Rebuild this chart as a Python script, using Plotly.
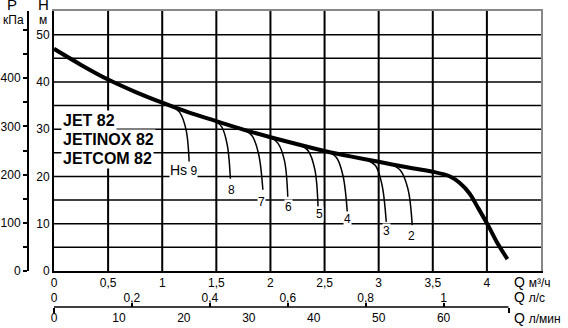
import plotly.graph_objects as go

# ---------------- data ----------------
q_main = [0, 0.25, 0.5, 0.75, 1.0, 1.25, 1.5, 1.75, 2.0, 2.25, 2.5, 2.75, 3.0, 3.25, 3.5, 3.66, 3.75, 3.84, 3.92, 4.01, 4.09, 4.19]
h_main = [47.0, 43.6, 40.5, 37.9, 35.6, 33.5, 31.7, 29.9, 28.3, 26.8, 25.4, 24.2, 23.1, 22.0, 21.0, 20.0, 18.6, 16.4, 13.3, 9.7, 6.2, 2.5]

hs_names = ["9", "8", "7", "6", "5", "4", "3", "2"]
hs_q = [
    [1.09, 1.16, 1.22, 1.25],
    [1.49, 1.55, 1.60, 1.63],
    [1.75, 1.83, 1.89, 1.93],
    [2.00, 2.07, 2.13, 2.16],
    [2.27, 2.35, 2.41, 2.44],
    [2.53, 2.61, 2.67, 2.71],
    [2.88, 2.97, 3.03, 3.07],
    [3.11, 3.20, 3.27, 3.31],
]
hs_h = [
    [34.8, 33.6, 29.9, 22.5],
    [31.7, 30.5, 26.8, 19.5],
    [29.9, 28.6, 24.8, 17.2],
    [28.3, 27.0, 23.3, 15.7],
    [26.7, 25.4, 21.5, 13.6],
    [25.3, 24.0, 20.2, 12.5],
    [23.6, 22.3, 18.3, 10.4],
    [22.6, 21.3, 17.4, 9.7],
]
# label positions (Q, H) for the Hs numbers
hs_label_q = [1.20, 1.64, 1.915, 2.17, 2.45, 2.71, 3.07, 3.30]
hs_label_h = [21.4, 17.2, 14.6, 13.5, 12.1, 11.0, 8.5, 7.4]

h_ticks = [0, 5, 10, 15, 20, 25, 30, 35, 40, 45, 50]
h_ticklabels = ["0", "", "10", "", "20", "", "30", "", "40", "", "50"]
p_ticks = [0, 50, 100, 150, 200, 250, 300, 350, 400, 450, 500]
p_ticklabels = ["0", "", "100", "", "200", "", "300", "", "400", "", ""]
q_ticks = [0, 0.5, 1, 1.5, 2, 2.5, 3, 3.5, 4]
q_ticklabels = ["0", "0,5", "1", "1,5", "2", "2,5", "3", "3,5", "4"]
ls_ticks = [0, 0.2, 0.4, 0.6, 0.8, 1.0]
ls_ticklabels = ["0", "0,2", "0,4", "0,6", "0,8", "1"]
lmin_ticks = [0, 10, 20, 30, 40, 50, 60]
lmin_ticklabels = ["0", "10", "20", "30", "40", "50", "60"]
lmin_end = 70

models = ["JET 82", "JETINOX 82", "JETCOM 82"]

Q_MAX = 4.5          # m3/h
H_MAX = 55           # m
KPA_PER_M = 9.81
LS_PER_M3H = 1 / 3.6
LMIN_PER_M3H = 1000 / 60

# ---------------- layout geometry ----------------
W, HGT = 568, 328
MR = 27
PW = W - MR
def fx(px):
    return px / PW
def fy(py):
    return 1 - py / HGT

FONT = "Liberation Sans, Arial, sans-serif"
x0 = fx(54)
ydom = [fy(271), fy(11)]

fig = go.Figure()

# grid built from the tick arrays
vx, vy = [], []
for q in q_ticks[1:]:
    vx += [q, q, None]
    vy += [0, H_MAX, None]
hx, hy = [], []
for h in h_ticks[1:]:
    hx += [0, Q_MAX, None]
    hy += [h, h, None]
fig.add_trace(go.Scatter(x=vx, y=vy, mode="lines", line=dict(color="black", width=2),
                         hoverinfo="skip", showlegend=False))
fig.add_trace(go.Scatter(x=hx, y=hy, mode="lines", line=dict(color="black", width=1.5),
                         hoverinfo="skip", showlegend=False))

for qs, hs in zip(hs_q, hs_h):
    fig.add_trace(go.Scatter(x=qs, y=hs, mode="lines", line=dict(color="black", width=1.5, shape="spline"),
                             hoverinfo="skip", showlegend=False))

fig.add_trace(go.Scatter(x=q_main, y=h_main, mode="lines",
                         line=dict(color="black", width=4, shape="spline", smoothing=0.8),
                         showlegend=False))

# empty traces so the extra axes render
fig.add_trace(go.Scatter(x=[], y=[], xaxis="x", yaxis="y2", showlegend=False))
fig.add_trace(go.Scatter(x=[], y=[], xaxis="x", yaxis="y3", showlegend=False))
for ax in ["x2", "x3", "x4", "x5", "x6"]:
    fig.add_trace(go.Scatter(x=[], y=[], xaxis=ax, yaxis="y", showlegend=False))

tickfont = dict(family=FONT, size=12, color="black")

fig.update_layout(
    width=W, height=HGT,
    margin=dict(l=0, r=MR, t=0, b=0),
    paper_bgcolor="white", plot_bgcolor="white",
    showlegend=False,
    xaxis=dict(domain=[x0, 1], range=[0, Q_MAX], tickvals=q_ticks, ticktext=q_ticklabels,
               showgrid=False, zeroline=False,
               showline=True, linecolor="black", linewidth=1.5, ticks="", tickfont=tickfont,
               automargin=False, fixedrange=True),
    yaxis=dict(domain=ydom, range=[0, H_MAX], tickvals=h_ticks, ticktext=h_ticklabels,
               showgrid=False, zeroline=False,
               showline=True, linecolor="black", linewidth=2, ticks="", tickfont=tickfont,
               automargin=False, fixedrange=True),
    yaxis2=dict(overlaying="y", anchor="free", position=fx(28), side="left",
                range=[0, H_MAX * KPA_PER_M], tickvals=p_ticks, ticktext=p_ticklabels,
                showgrid=False, zeroline=False, showline=True, linecolor="black", linewidth=2,
                ticks="outside", ticklen=4, tickwidth=1.5, tickcolor="black", tickfont=tickfont,
                automargin=False),
    yaxis3=dict(overlaying="y", anchor="x", side="right", range=[0, H_MAX],
                showgrid=False, zeroline=False, showline=True, linecolor="#888888", linewidth=2,
                ticks="", showticklabels=False, automargin=False),
    xaxis6=dict(overlaying="x", anchor="y", side="top", range=[0, Q_MAX],
                showgrid=False, zeroline=False, showline=True, linecolor="#888888", linewidth=1.5,
                ticks="", showticklabels=False, automargin=False),
    xaxis2=dict(overlaying="x", anchor="free", position=fy(304), side="top",
                range=[0, Q_MAX * LS_PER_M3H], tickvals=ls_ticks, ticktext=ls_ticklabels,
                showgrid=False, zeroline=False, showline=False, ticks="", tickfont=tickfont,
                automargin=False),
    xaxis5=dict(overlaying="x", anchor="free", position=fy(307), side="top",
                range=[0, Q_MAX * LS_PER_M3H], tickvals=ls_ticks[1:],
                showgrid=False, zeroline=False, showline=False, showticklabels=False,
                ticks="outside", ticklen=4, tickwidth=2, tickcolor="black", automargin=False),
    xaxis3=dict(overlaying="x", anchor="free", position=fy(309), side="bottom",
                range=[0, Q_MAX * LMIN_PER_M3H], tickvals=lmin_ticks, ticktext=lmin_ticklabels,
                showgrid=False, zeroline=False, showline=False, ticks="", tickfont=tickfont,
                automargin=False),
    xaxis4=dict(overlaying="x", anchor="free", position=fy(307), side="bottom",
                range=[0, Q_MAX * LMIN_PER_M3H], tickvals=[0, lmin_end],
                showgrid=False, zeroline=False, showline=False, showticklabels=False,
                ticks="outside", ticklen=5, tickwidth=2, tickcolor="black", automargin=False),
)

# l/min axis line up to its last tick
fig.add_shape(type="line", xref="x3", yref="paper", x0=0, x1=lmin_end, y0=fy(307), y1=fy(307),
              line=dict(color="black", width=1.5))

# model names block
for i, m in enumerate(models):
    fig.add_annotation(xref="paper", yref="paper", x=fx(61), y=fy(120 + 19 * i), xanchor="left", yanchor="middle",
                       text="<b>" + m + "</b>", showarrow=False, font=dict(family=FONT, size=16, color="black"),
                       bgcolor="white", borderpad=1)

# Hs labels
for i, (name, lq, lh) in enumerate(zip(hs_names, hs_label_q, hs_label_h)):
    txt = name if i > 0 else "<span style='font-size:14px'>Hs</span> " + name
    fig.add_annotation(x=lq, y=lh, xref="x", yref="y", text=txt, showarrow=False,
                       font=dict(family=FONT, size=12, color="black"), bgcolor="white", borderpad=0)

# axis titles
def ann(px, py, text, size, anchor="center"):
    fig.add_annotation(xref="paper", yref="paper", x=fx(px), y=fy(py), text=text, showarrow=False,
                       xanchor=anchor, yanchor="middle", font=dict(family=FONT, size=size, color="black"))

ann(12, 4, "P", 15)
ann(13, 20, "кПа", 12)
ann(43, 4, "H", 15)
ann(43, 20, "м", 12)
ann(512, 282, "Q <span style='font-size:12px'>м³/ч</span>", 14, "left")
ann(512, 297, "Q <span style='font-size:12px'>л/с</span>", 14, "left")
ann(512, 318, "Q <span style='font-size:12px'>л/мин</span>", 14, "left")

fig.write_html("out.html")
